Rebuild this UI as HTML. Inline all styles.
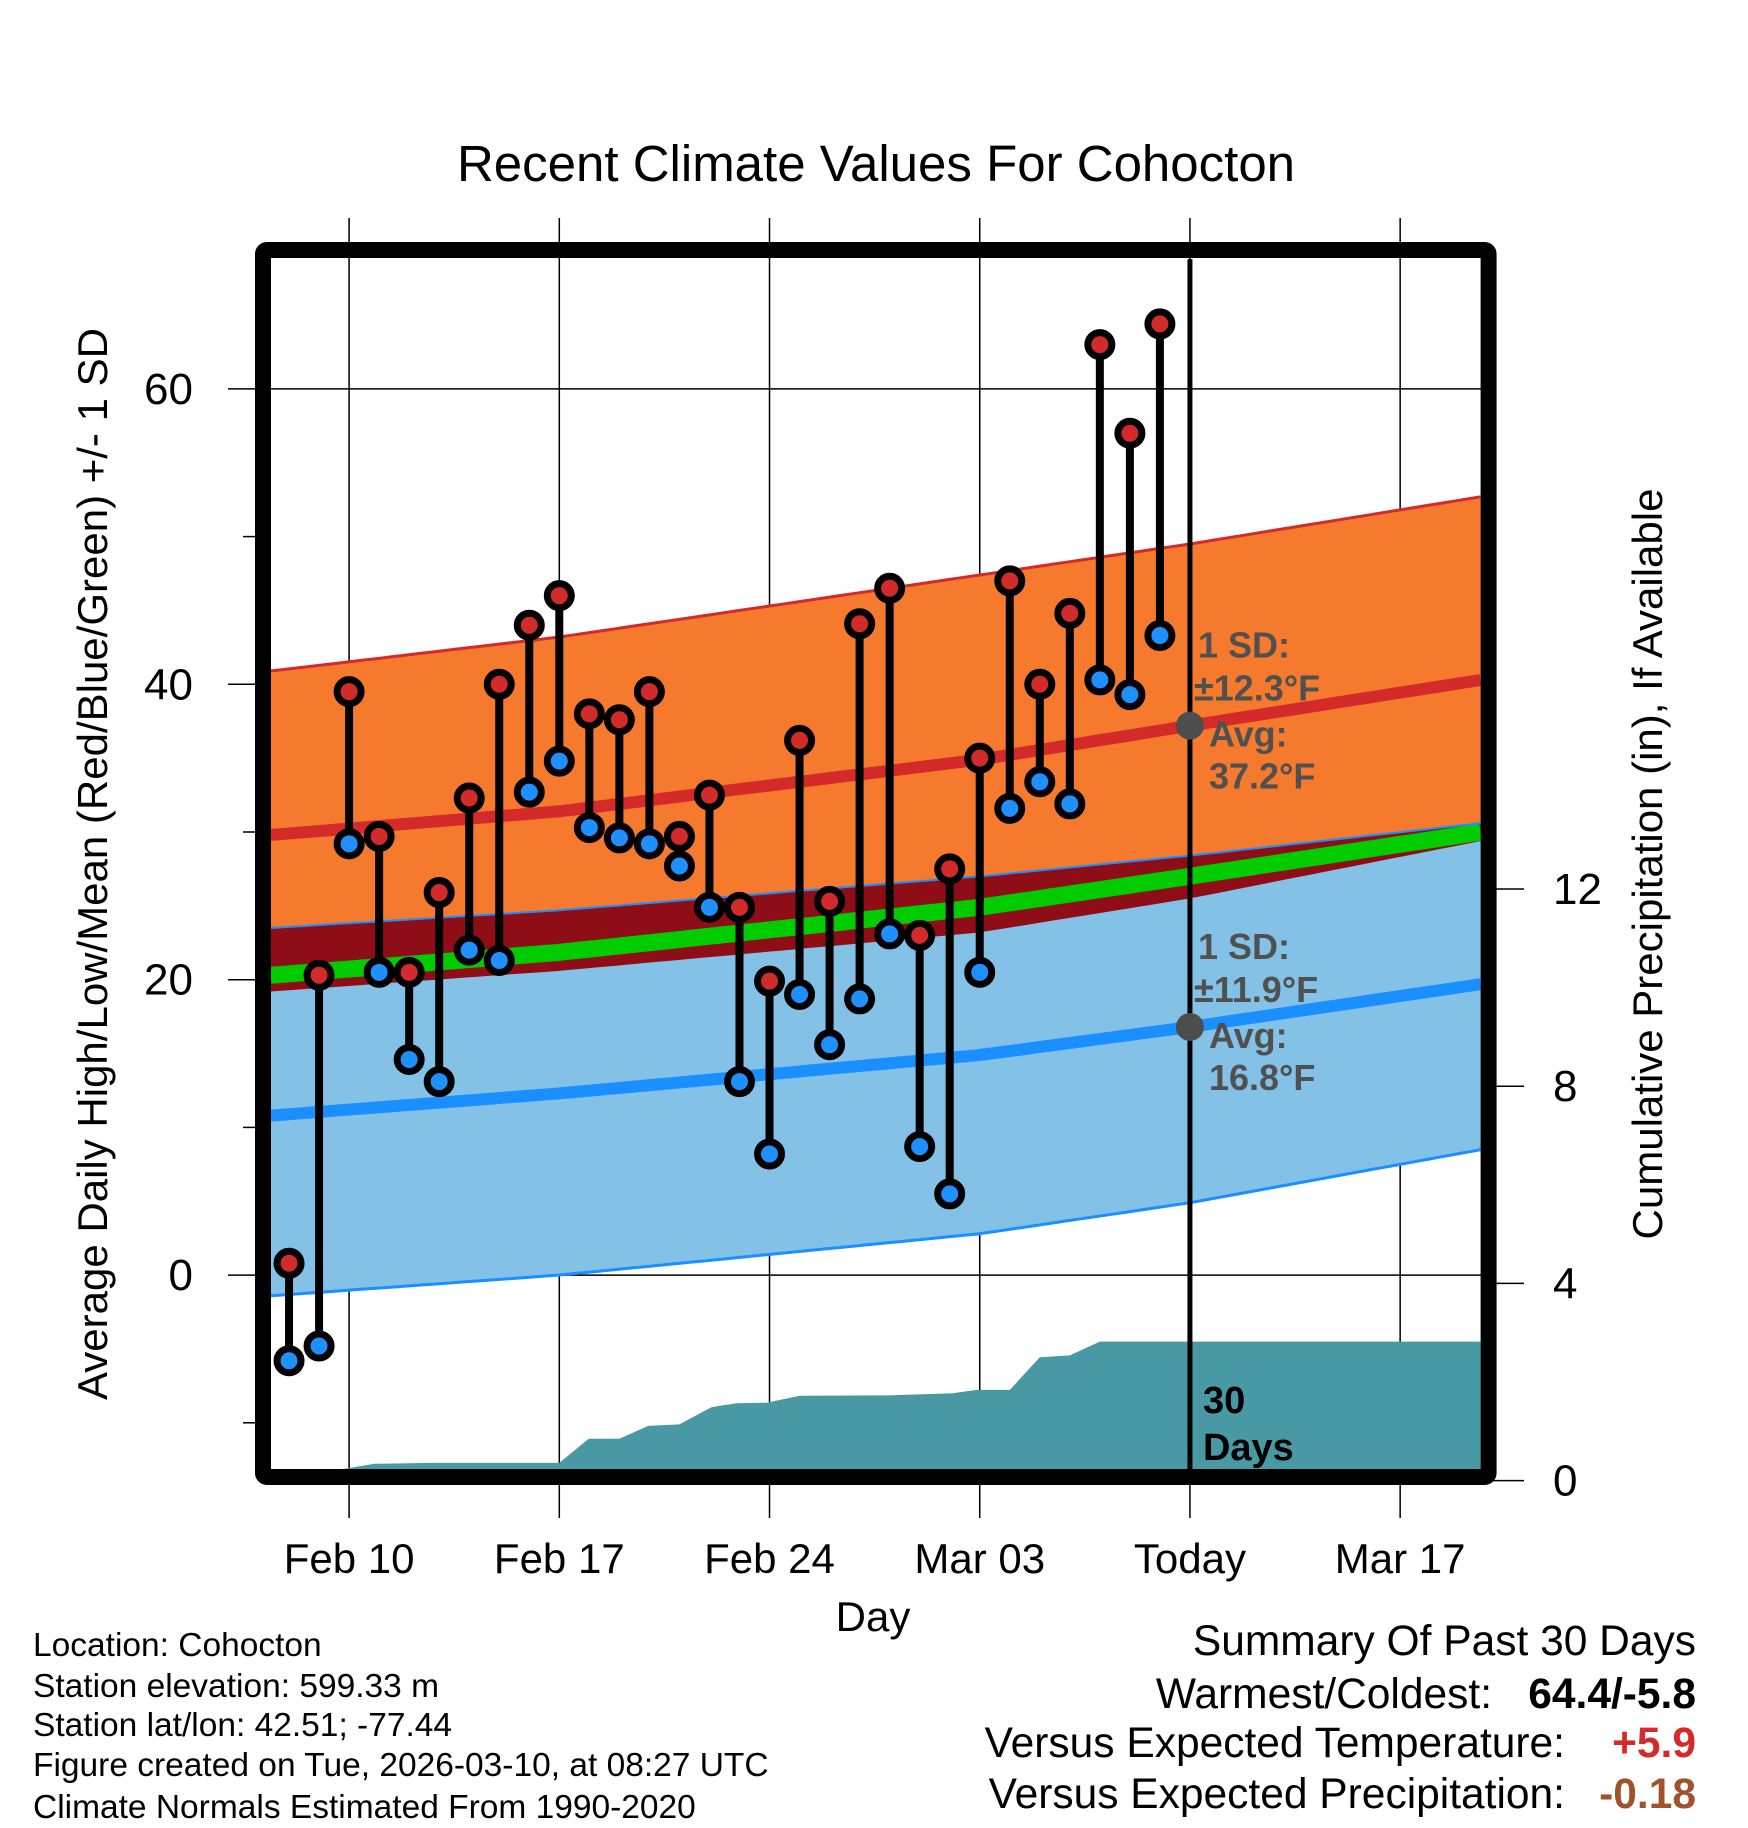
<!DOCTYPE html>
<html><head><meta charset="utf-8"><style>
html,body{margin:0;padding:0;background:#fff;}
svg{display:block;font-family:"Liberation Sans",Arial,sans-serif;}
</style></head><body>
<svg id="chart" width="1748" height="1828" viewBox="0 0 1748 1828" xmlns="http://www.w3.org/2000/svg">
<defs><clipPath id="plotclip"><rect x="270.9" y="259.2" width="1209.7" height="1209.8"/></clipPath></defs>
<rect width="1748" height="1828" fill="#fff"/>
<text x="876" y="181" font-size="51" text-anchor="middle">Recent Climate Values For Cohocton</text>
<g id="grid"></g>
<g id="plot" clip-path="url(#plotclip)"></g>
<g id="marks"></g>
<g id="axes"></g>
<g id="annot"></g>
<text x="873" y="1631" font-size="42" text-anchor="middle">Day</text>
<text transform="translate(107,864) rotate(-90)" font-size="42" text-anchor="middle">Average Daily High/Low/Mean (Red/Blue/Green) +/- 1 SD</text>
<text transform="translate(1662,864) rotate(-90)" font-size="42" text-anchor="middle">Cumulative Precipitation (in), If Available</text>
<g font-size="33.5">
<text x="33" y="1656">Location: Cohocton</text>
<text x="33" y="1697">Station elevation: 599.33 m</text>
<text x="33" y="1736">Station lat/lon: 42.51; -77.44</text>
<text x="33" y="1776">Figure created on Tue, 2026-03-10, at 08:27 UTC</text>
<text x="33" y="1818">Climate Normals Estimated From 1990-2020</text>
</g>
<g font-size="42.5">
<text x="1696" y="1655" text-anchor="end">Summary Of Past 30 Days</text>
<text x="1492" y="1708" text-anchor="end">Warmest/Coldest:</text>
<text x="1696" y="1708" text-anchor="end" font-weight="bold">64.4/-5.8</text>
<text x="1565" y="1757" text-anchor="end">Versus Expected Temperature:</text>
<text x="1696" y="1757" text-anchor="end" font-weight="bold" fill="#d62a2a">+5.9</text>
<text x="1565" y="1808" text-anchor="end">Versus Expected Precipitation:</text>
<text x="1696" y="1808" text-anchor="end" font-weight="bold" fill="#a0522d">-0.18</text>
</g>
</svg>
<script>
// ---- data (days relative to Feb 10) ----
const obsDays = [-2,-1,0,1,2,3,4,5,6,7,8,9,10,11,12,13,14,15,16,17,18,19,20,21,22,23,24,25,26,27];
const highs = [0.8,20.3,39.5,29.7,20.5,25.9,32.3,40.0,44.0,46.0,38.0,37.6,39.5,29.7,32.5,24.9,19.9,36.2,25.3,44.1,46.5,23.0,27.5,35.0,47.0,40.0,44.8,63.0,57.0,64.4];
const lows = [-5.8,-4.8,29.2,20.5,14.6,13.1,22.0,21.3,32.7,34.8,30.3,29.6,29.2,27.7,24.9,13.1,8.2,19.0,15.6,18.7,23.1,8.7,5.5,20.5,31.6,33.4,31.9,40.3,39.3,43.3];
const normDays = [-2.6,7,21,28,37.7];
const hiUpper = [40.9,43.2,47.4,49.5,52.7];
const hiMean = [29.8,31.4,34.9,37.2,40.3];
const hiLower = [19.2,20.6,23.2,25.5,29.4];
const loUpper = [23.5,24.7,27.0,28.4,30.6];
const loMean = [10.8,12.3,14.9,16.8,19.7];
const loLower = [-1.4,0.0,2.8,4.9,8.5];
const precipDays = [-0.2,0.85,2.7,7.0,7.98,9.0,9.96,11.0,12.07,12.9,13.9,15.0,18.1,20.1,20.9,22.0,23.0,24.0,25.0,37.7];
const precipVals = [0,0.34,0.36,0.36,0.85,0.85,1.11,1.14,1.49,1.57,1.58,1.72,1.73,1.77,1.84,1.84,2.50,2.54,2.82,2.82];
const xTickDays = [0,7,14,21,28,35];
const xTickLabels = ["Feb 10","Feb 17","Feb 24","Mar 03","Today","Mar 17"];
const yTicks = [0,20,40,60];
const yMinor = [-10,10,30,50];
const pTicks = [0,4,8,12];
const todayDay = 28;

const NS="http://www.w3.org/2000/svg";
const X = d => 349.1 + 30.03*d;
const Y = t => 1275.1 - 14.77*t;
const P = p => 1480.6 - 49.3*p;
const D0=-2.61, D1=37.68, TOP=259.2, BOT=1469;
function el(tag, attrs, parent){const e=document.createElementNS(NS,tag);for(const k in attrs)e.setAttribute(k,attrs[k]);parent.appendChild(e);return e;}
function interp(xs, ys, x){if(x<=xs[0])return ys[0];for(let i=1;i<xs.length;i++){if(x<=xs[i]){const f=(x-xs[i-1])/(xs[i]-xs[i-1]);return ys[i-1]+f*(ys[i]-ys[i-1]);}}return ys[ys.length-1];}
const samp=[];for(let d=D0;d<=D1+0.001;d+=0.5)samp.push(d);samp.push(D1);
function line(arr){return samp.map(d=>X(d).toFixed(1)+','+Y(interp(normDays,arr,d)).toFixed(1)).join(' ');}
function band(a,b){const top=samp.map(d=>X(d).toFixed(1)+','+Y(interp(normDays,a,d)).toFixed(1));const bot=samp.slice().reverse().map(d=>X(d).toFixed(1)+','+Y(interp(normDays,b,d)).toFixed(1));return top.concat(bot).join(' ');}
const grid=document.getElementById('grid'), plot=document.getElementById('plot'), marks=document.getElementById('marks'), axes=document.getElementById('axes'), annot=document.getElementById('annot');

let e;
e=el('polygon',{points:band(hiUpper,hiLower),fill:'#f57a2e'},plot);


e=el('polygon',{points:band(loUpper,loLower),fill:'#84c1e6'},plot);


e=el('polygon',{points:band(loUpper,hiLower),fill:'#8f0d16'},plot);


const avgArr = hiMean.map((v,i)=>(v+loMean[i])/2);
e=el('polyline',{points:line(avgArr),fill:'none',stroke:'#00cc00','stroke-width':17},plot);


e=el('polyline',{points:line(hiUpper),fill:'none',stroke:'#d42a2a','stroke-width':3},plot);


e=el('polyline',{points:line(loUpper),fill:'none',stroke:'#1a8fff','stroke-width':2},plot);


e=el('polyline',{points:line(loLower),fill:'none',stroke:'#1a8fff','stroke-width':3},plot);


e=el('polyline',{points:line(hiMean),fill:'none',stroke:'#d42a2a','stroke-width':12},plot);


e=el('polyline',{points:line(loMean),fill:'none',stroke:'#1a8fff','stroke-width':12},plot);



let pp=[X(precipDays[0]).toFixed(1)+','+BOT];
precipDays.forEach((d,i)=>pp.push(X(d).toFixed(1)+','+Math.min(BOT,P(precipVals[i])).toFixed(1)));
pp.push(X(D1+1)+','+P(precipVals[precipVals.length-1]).toFixed(1));
pp.push(X(D1+1)+','+BOT);
e=el('polygon',{points:pp.join(' '),fill:'#4899a3'},plot);



xTickDays.forEach((d,i)=>{
  const g=el('line',{x1:X(d),x2:X(d),y1:218,y2:1518,stroke:'#000','stroke-width':1.5},grid);
  
  
  const t=el('text',{x:X(d),y:1573,'font-size':42,'text-anchor':'middle'},axes);
  t.textContent=xTickLabels[i];
  
  
});
yTicks.forEach(v=>{
  const g=el('line',{x1:228,x2:1481,y1:Y(v),y2:Y(v),stroke:'#000','stroke-width':1.5},grid);
  
  
  const t=el('text',{x:193,y:Y(v)+15,'font-size':44,'text-anchor':'end'},axes);
  t.textContent=v;
  
  
});
yMinor.forEach(v=>{
  const g=el('line',{x1:243,x2:256,y1:Y(v),y2:Y(v),stroke:'#000','stroke-width':1.5},axes);
  
  
});
pTicks.forEach(v=>{
  const g=el('line',{x1:1490,x2:1524,y1:P(v),y2:P(v),stroke:'#000','stroke-width':1.5},axes);
  
  
  const t=el('text',{x:1553,y:P(v)+15,'font-size':44},axes);
  t.textContent=v;
  
  
});

obsDays.forEach((d,i)=>{
  const x=X(d);
  const s=el('line',{x1:x,x2:x,y1:Y(highs[i]),y2:Y(lows[i]),stroke:'#000','stroke-width':8},marks);
  
  
  const h=el('circle',{cx:x,cy:Y(highs[i]),r:12,fill:'#d22b2b',stroke:'#000','stroke-width':7},marks);
  
  
  const l=el('circle',{cx:x,cy:Y(lows[i]),r:12,fill:'#1e90ff',stroke:'#000','stroke-width':7},marks);
  
  
});

const tx=X(todayDay);
e=el('line',{x1:tx,x2:tx,y1:TOP,y2:BOT,stroke:'#000','stroke-width':5},annot);


const hiT=interp(normDays,hiMean,todayDay), loT=interp(normDays,loMean,todayDay);
e=el('circle',{cx:tx,cy:Y(hiT),r:14,fill:'#4d4d4d'},annot);


e=el('circle',{cx:tx,cy:Y(loT),r:14,fill:'#4d4d4d'},annot);


function ann(y0,sd,avg,name){
  const g=el('g',{'font-size':36,'font-weight':'bold',fill:'#505050'},annot);
  
  
  const lines=[['1 SD:',tx+8,y0-68],['±'+sd+'°F',tx+4,y0-25],['Avg:',tx+19,y0+21],[avg+'°F',tx+19,y0+63]];
  lines.forEach(l=>{const t=el('text',{x:l[1],y:l[2]},g);t.textContent=l[0];});
}
ann(Y(hiT),'12.3',hiT.toFixed(1),'high-normal-annotation');
ann(Y(loT),'11.9',loT.toFixed(1),'low-normal-annotation');
const g30=el('g',{'font-size':38,'font-weight':'bold',fill:'#000'},annot);


el('text',{x:tx+13,y:1413},g30).textContent='30';
el('text',{x:tx+13,y:1460},g30).textContent='Days';

e=el('rect',{x:263,y:250,width:1225.6,height:1227,fill:'none',stroke:'#000','stroke-width':16,rx:4},annot);


</script>
</body></html>
